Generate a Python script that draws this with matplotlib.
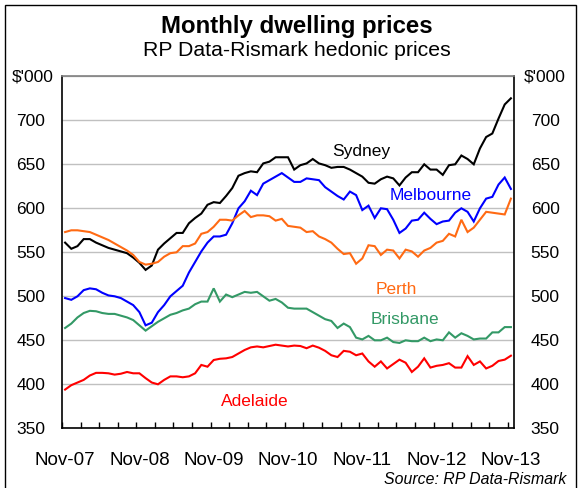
import matplotlib
matplotlib.use("Agg")
import matplotlib.pyplot as plt
from matplotlib.patches import Rectangle
import numpy as np

plt.rcParams['font.family'] = ['Liberation Sans', 'DejaVu Sans']

x_labels = ["Nov-07", "Nov-08", "Nov-09", "Nov-10", "Nov-11", "Nov-12", "Nov-13"]

sydney = [561, 554, 557, 565, 565, 561, 558, 555, 553, 551, 549, 544, 538, 530, 535,
          553, 560, 566, 572, 572, 583, 589, 594, 604, 607, 606, 614, 623, 637, 640,
          642, 641, 651, 653, 658, 658, 658, 644, 649, 651, 656, 651, 649, 646, 647,
          647, 644, 640, 636, 629, 628, 633, 636, 634, 626, 635, 641, 641, 650, 644,
          644, 638, 649, 650, 660, 656, 650, 668, 681, 685, 702, 718, 725]
melbourne = [498, 496, 500, 507, 509, 508, 504, 501, 500, 498, 494, 490, 482, 467, 470,
             482, 490, 500, 506, 512, 527, 539, 551, 561, 568, 568, 570, 583, 600, 608,
             620, 615, 628, 632, 636, 640, 635, 630, 630, 634, 633, 632, 624, 619, 614,
             610, 619, 615, 598, 603, 589, 600, 599, 587, 572, 577, 586, 587, 595, 588,
             582, 585, 586, 595, 600, 596, 585, 600, 611, 613, 627, 635, 622]
perth = [573, 575, 575, 574, 573, 570, 567, 564, 560, 556, 552, 547, 539, 536, 537,
         539, 545, 549, 550, 557, 557, 560, 571, 573, 579, 587, 587, 586, 592, 597,
         590, 592, 592, 591, 586, 588, 580, 579, 578, 573, 574, 568, 565, 561, 554,
         548, 549, 537, 543, 558, 557, 547, 553, 552, 543, 553, 551, 545, 552, 555,
         561, 563, 571, 568, 587, 573, 578, 587, 596, 595, 594, 593, 611]
brisbane = [464, 469, 476, 481, 483.5, 483, 481, 480, 480, 478, 476, 473, 467, 461, 466,
            471, 475, 479, 481, 484, 486, 491, 494, 494, 509, 494, 502, 499, 502, 505,
            504, 505, 500, 495, 497, 493, 487, 486, 486, 486, 482, 478, 474, 472, 464,
            469, 465, 453, 451, 455, 450, 450, 453, 448, 447, 450, 449, 449, 453, 449,
            451, 450, 459, 453, 458, 455, 451, 452, 452, 459, 459, 465, 465]
adelaide = [394, 399, 402, 405, 410, 413, 413, 412.5, 411, 412, 414, 412.5, 412.5, 407, 402,
            400, 405, 409, 409, 408, 409, 412.5, 422, 420, 427.6, 429, 429.5, 431, 435, 439,
            442, 443, 442, 443.5, 445, 444, 443, 444, 443.5, 441, 444, 441.6, 438, 433, 431,
            438, 437, 433, 435, 426, 420, 426, 418, 423, 428, 424.5, 414, 420, 429.5, 419,
            421, 422, 424, 419, 419, 432, 422, 426, 418, 421, 426.5, 428, 432.5]

series = [
    ("Sydney", sydney, "#000000", (47.8, 664)),
    ("Melbourne", melbourne, "#0000FF", (59.0, 614)),
    ("Perth", perth, "#FF6A13", (53.5, 508)),
    ("Brisbane", brisbane, "#339966", (54.9, 474)),
    ("Adelaide", adelaide, "#FF0000", (30.7, 381)),
]

W, H = 581, 488
fig = plt.figure(figsize=(W / 100, H / 100), dpi=100)

# outer frame
fig.patches.append(Rectangle((5 / W, -0.01), 571 / W, 1 - 5 / H + 0.01, transform=fig.transFigure,
                             fill=False, edgecolor="black", linewidth=1.0))

left, right, top, bottom = 62, 514, 76.3, 428.3
ax = fig.add_axes([left / W, (H - bottom) / H, (right - left) / W, (bottom - top) / H])

x = np.arange(len(sydney))
for name, vals, color, (lx, ly) in series:
    ax.plot(x, vals, color=color, lw=1.5, solid_joinstyle="miter")
    ax.text(lx, ly, name, color=color, fontsize=12.5, ha="center", va="center")

ax.set_xlim(-0.5, 72.5)
ax.set_ylim(350, 750)

yt = list(range(350, 751, 50))
ax.set_yticks(yt)
ax.set_yticklabels([str(v) if v < 750 else "" for v in yt])
ax.tick_params(axis="y", length=0, labelsize=12.5, pad=12, labelright=True, right=False)
ax.tick_params(axis="y", which="major", labelleft=True)
for lbl in ax.get_yticklabels():
    pass
ax.yaxis.set_tick_params(pad=12)
# right labels padding
for t in ax.yaxis.get_major_ticks():
    t.label2.set_fontsize(12.5)

ax.set_xticks(np.arange(0, 73, 12))
ax.set_xticklabels(x_labels)
ax.set_xticks(np.arange(-0.5, 72.5, 3), minor=True)
ax.tick_params(axis="x", which="major", length=0, labelsize=13.5, pad=17)
ax.tick_params(axis="x", which="minor", direction="in", length=4, width=1, color="black")

ax.grid(axis="y", color="#C0C0C0", lw=1)
ax.set_axisbelow(True)
for s in ["left", "right", "bottom"]:
    ax.spines[s].set_color("black")
    ax.spines[s].set_linewidth(1.2)
ax.spines["top"].set_color("#808080")
ax.spines["top"].set_linewidth(1.2)

fig.text(54 / W, 1 - 77 / H, "$'000", fontsize=12.5, ha="right", va="center")
fig.text(524 / W, 1 - 77 / H, "$'000", fontsize=12.5, ha="left", va="center")

fig.text(297 / W, 1 - 27 / H, "Monthly dwelling prices", fontsize=17.3, fontweight="bold",
         ha="center", va="center")
fig.text(297 / W, 1 - 51 / H, "RP Data-Rismark hedonic prices", fontsize=15.3,
         ha="center", va="center")
fig.text(566 / W, 1 - 480 / H, "Source: RP Data-Rismark", fontsize=11.4, style="italic",
         ha="right", va="center")

fig.savefig("out.png", dpi=100)
